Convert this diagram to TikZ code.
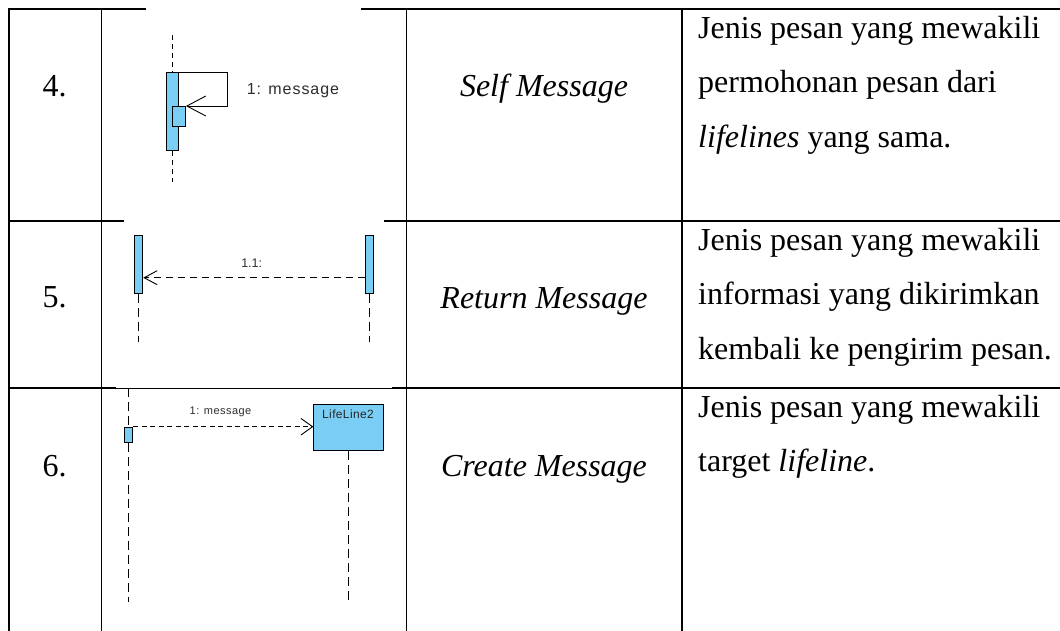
\documentclass[tikz,border=0pt]{standalone}
\usepackage{fontspec}
\setmainfont{Liberation Serif}
\newfontfamily\umlfont{Liberation Sans}
\usetikzlibrary{arrows.meta}
\definecolor{actblue}{RGB}{122,206,245}
\definecolor{umlgrey}{RGB}{45,45,45}

\tikzset{
  tablerule/.style={line width=1.6pt, line cap=rect},
  thinrule/.style={line width=1pt},
  actbar/.style={draw=black, fill=actblue, line width=0.9pt, inner sep=0pt, anchor=north west},
  lifebox/.style={draw=black, fill=actblue, line width=1pt, inner sep=0pt, anchor=north west},
  lifeshort/.style={line width=0.8pt, dash pattern=on 5pt off 4pt},
  lifelong/.style={line width=0.8pt, dash pattern=on 9pt off 5pt},
  msgline/.style={line width=0.9pt},
  replyline/.style={line width=0.9pt, dash pattern=on 7pt off 5pt},
  createline/.style={line width=0.9pt, dash pattern=on 5pt off 3.5pt},
  umllabel/.style={text=umlgrey, inner sep=0pt},
  desccell/.style={font=\fontsize{32}{38}\selectfont, anchor=base west, inner sep=0pt},
  kindcell/.style={font=\fontsize{32}{38}\selectfont\itshape, anchor=base, inner sep=0pt},
  numcell/.style={font=\fontsize{32}{38}\selectfont, anchor=base, inner sep=0pt},
}

\begin{document}
\begin{tikzpicture}[x=1pt,y=-1pt]
\useasboundingbox (0,0) rectangle (1060,630);
\fill[white] (0,0) rectangle (1060,630);

% ---------- table rules ----------
\draw[tablerule] (9,9) -- (145,9);
\draw[tablerule] (362,9) -- (1062,9);
\draw[tablerule] (9,221) -- (123,221);
\draw[tablerule] (385,221) -- (1062,221);
\draw[tablerule] (9,388) -- (115,388);
\draw[thinrule] (115,388) -- (393,388);
\draw[tablerule] (393,388) -- (1062,388);
\draw[tablerule] (9,9) -- (9,632);
\draw[tablerule] (101.5,9) -- (101.5,632);
\draw[tablerule] (406.5,9) -- (406.5,632);
\draw[tablerule] (682,9) -- (682,632);

% ---------- row 4: self message ----------
\node[numcell] (n4) at (54.5,96) {4.};
\node[actbar, minimum width=12.6pt, minimum height=77.7pt] (sa) at (165.7,72.3) {};
\node[actbar, minimum width=13.3pt, minimum height=19.7pt] (sb) at (171.7,106) {};
\coordinate (stop) at (sa.north |- 0,35);
\coordinate (sbot) at (sa.south |- 0,182);
\draw[lifeshort] (stop) -- (sa.north);
\draw[lifeshort] (sa.south) -- (sbot);
\coordinate (sturn) at (227.7,90);
\draw[msgline, -{Straight Barb[length=19pt, width=20pt]}] (sa.north east) -| (sturn) |- (sb.north east);
\node[umllabel, anchor=west, font=\umlfont\addfontfeature{LetterSpace=6}\fontsize{16}{19}\selectfont] (sl) at (246.7,91) {1: message};
\node[kindcell] (t4) at (544,96) {Self Message};
\node[desccell] (d4a) at (698,38) {Jenis pesan yang mewakili};
\node[desccell] (d4b) at (698,92.7) {permohonan pesan dari};
\node[desccell] (d4c) at (698,147.4) {\itshape lifelines\upshape{} yang sama.};

% ---------- row 5: return message ----------
\node[numcell] (n5) at (54.5,307) {5.};
\node[actbar, minimum width=8.3pt, minimum height=58.3pt] (ra) at (134,235) {};
\node[actbar, minimum width=8.3pt, minimum height=58.3pt] (rb) at (365,235) {};
\coordinate (raend) at (ra.south |- 0,342);
\coordinate (rbend) at (rb.south |- 0,342);
\draw[lifelong] (ra.south) -- (raend);
\draw[lifelong] (rb.south) -- (rbend);
\coordinate (rline) at (250,277.7);
\draw[replyline, -{Straight Barb[length=13pt, width=14pt]}] (rb.west |- rline) -- (ra.east |- rline);
\node[umllabel, font=\umlfont\fontsize{12.5}{15}\selectfont] (rl) at (251.7,263.3) {1.1:};
\node[kindcell] (t5) at (544,308) {Return Message};
\node[desccell] (d5a) at (698,250) {Jenis pesan yang mewakili};
\node[desccell] (d5b) at (698,304.7) {informasi yang dikirimkan};
\node[desccell] (d5c) at (698,359.4) {kembali ke pengirim pesan.};

% ---------- row 6: create message ----------
\node[numcell] (n6) at (54.5,476) {6.};
\node[actbar, minimum width=8pt, minimum height=15.6pt] (ca) at (124.3,426.7) {};
\node[lifebox, minimum width=69.4pt, minimum height=46pt] (cb) at (313.3,404) {};
\node[umllabel, text=black!85, font=\umlfont\addfontfeature{LetterSpace=3}\fontsize{12}{14}\selectfont] (cbl) at (348,414) {LifeLine2};
\coordinate (catop) at (ca.north |- 0,388);
\coordinate (caend) at (ca.south |- 0,602);
\coordinate (cbend) at (cb.south |- 0,602);
\draw[lifelong] (catop) -- (ca.north);
\draw[lifelong] (ca.south) -- (caend);
\draw[lifelong] (cb.south) -- (cbend);
\draw[createline, -{Straight Barb[length=11.6pt, width=16.6pt]}] (ca.north east) -- (cb.west |- ca.north east);
\node[umllabel, font=\umlfont\addfontfeature{LetterSpace=4}\fontsize{11}{13}\selectfont] (cl) at (220.5,411.7) {1: message};
\node[kindcell] (t6) at (544,476) {Create Message};
\node[desccell] (d6a) at (698,417) {Jenis pesan yang mewakili};
\node[desccell] (d6b) at (698,471.7) {target \itshape lifeline\upshape.};
\end{tikzpicture}
\end{document}
